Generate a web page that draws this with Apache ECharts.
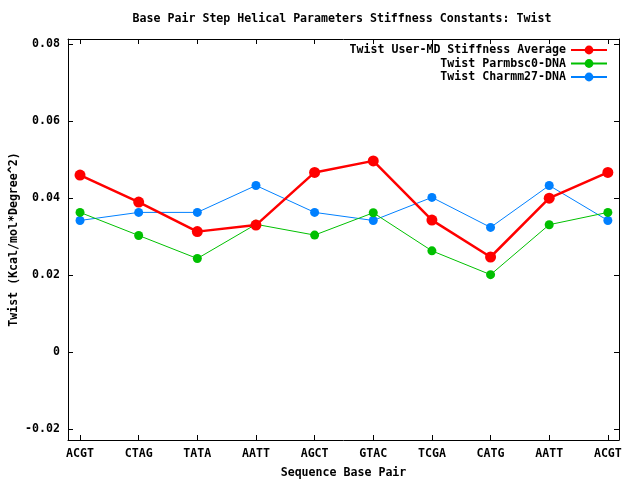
<!DOCTYPE html>
<html><head><meta charset="utf-8">
<script src="https://cdn.jsdelivr.net/npm/echarts@6/dist/echarts.min.js"></script>
<style>html,body{margin:0;padding:0;background:#fff}#c{width:640px;height:480px}</style>
</head><body><div id="c"></div>
<script>
const categories = ['ACGT','CTAG','TATA','AATT','AGCT','GTAC','TCGA','CATG','AATT','ACGT'];
const userMD = [0.0460,0.0390,0.0313,0.0330,0.0467,0.0497,0.0343,0.0247,0.0400,0.0467];
const parmbsc0 = [0.0363,0.0303,0.0243,0.0332,0.0304,0.0362,0.0263,0.0201,0.0331,0.0363];
const charmm27 = [0.0342,0.0363,0.0363,0.0433,0.0363,0.0342,0.0402,0.0324,0.0433,0.0342];
const yTicks = [-0.02,0,0.02,0.04,0.06,0.08];
const yLabels = ['-0.02','0','0.02','0.04','0.06','0.08'];

const F = 'DejaVu Sans Mono';
const FS = 11.6;
const idx = categories.map((_, i) => i);
const pts = arr => arr.map((v, i) => [i, v]);
const chart = echarts.init(document.getElementById('c'));
const axLine = {show: true, onZero: false, lineStyle: {color: '#000', width: 1}};
const tick = {show: true, inside: true, length: 5, lineStyle: {color: '#000'}};
const txt = {fontFamily: F, fontSize: FS, fontWeight: 'bold', color: '#000'};
chart.setOption({
  animation: false,
  title: {text: 'Base Pair Step Helical Parameters Stiffness Constants: Twist', left: 337, textAlign: 'center', top: 8,
    textStyle: txt},
  legend: {right: 27, top: 39, orient: 'vertical', align: 'right', itemWidth: 36, itemHeight: 11, itemGap: 1.5,
    textStyle: txt,
    data: ['Twist User-MD Stiffness Average','Twist Parmbsc0-DNA','Twist Charmm27-DNA']},
  grid: {left: 68, right: 21, top: 39, bottom: 40, containLabel: false, outerBoundsMode: 'none'},
  xAxis: [
    {type: 'value', min: -0.205, max: 9.19, position: 'bottom',
     name: 'Sequence Base Pair', nameLocation: 'middle', nameGap: 27, nameMoveOverlap: false,
     nameTextStyle: txt,
     axisLine: axLine, axisTick: Object.assign({customValues: idx}, tick), splitLine: {show: false},
     axisLabel: Object.assign({customValues: idx, formatter: v => categories[Math.round(v)], margin: 8}, txt)},
    {type: 'value', min: -0.205, max: 9.19, position: 'top',
     axisLine: axLine, axisTick: Object.assign({customValues: idx}, tick), splitLine: {show: false},
     axisLabel: {show: false}}
  ],
  yAxis: [
    {type: 'value', min: -0.0229, max: 0.0814, position: 'left',
     name: 'Twist (Kcal/mol*Degree^2)', nameLocation: 'middle', nameGap: 54, nameRotate: 90, nameMoveOverlap: false,
     nameTextStyle: Object.assign({verticalAlign: 'middle'}, txt),
     axisLine: axLine, axisTick: Object.assign({customValues: yTicks}, tick), splitLine: {show: false},
     axisLabel: Object.assign({customValues: yTicks, formatter: v => yLabels[yTicks.findIndex(t => Math.abs(t - v) < 1e-9)], margin: 8}, txt)},
    {type: 'value', min: -0.0229, max: 0.0814, position: 'right',
     axisLine: axLine, axisTick: Object.assign({customValues: yTicks}, tick), splitLine: {show: false},
     axisLabel: {show: false}}
  ],
  series: [
    {name: 'Twist User-MD Stiffness Average', type: 'line', data: pts(userMD), symbol: 'circle', symbolSize: 11,
     itemStyle: {color: '#ff0000'}, lineStyle: {color: '#ff0000', width: 2.5}, z: 3},
    {name: 'Twist Parmbsc0-DNA', type: 'line', data: pts(parmbsc0), symbol: 'circle', symbolSize: 9,
     itemStyle: {color: '#00c000'}, lineStyle: {color: '#00c000', width: 1}, z: 2},
    {name: 'Twist Charmm27-DNA', type: 'line', data: pts(charmm27), symbol: 'circle', symbolSize: 9,
     itemStyle: {color: '#0080ff'}, lineStyle: {color: '#0080ff', width: 1}, z: 1}
  ]
});
</script></body></html>
